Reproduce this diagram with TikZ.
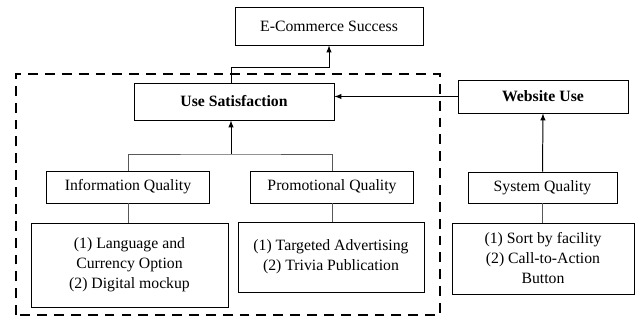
\documentclass[tikz,border=0pt]{standalone}
\usepackage{fontspec}
\setmainfont{Liberation Serif}
\usetikzlibrary{calc}

\begin{document}
\begin{tikzpicture}[
 >={latex},
 align=center,
 inner sep=1mm,
 font=\fontsize{11.2}{14.2}\selectfont,
 box/.style={draw=black,line width=0.6pt,rectangle,fill=white},
 link/.style={draw=black!65,line width=0.6pt},
 arrow/.style={draw=black,line width=0.7pt,->},
 group/.style={draw=black,line width=1.8pt,dash pattern=on 7pt off 5pt}
]
\useasboundingbox (0,0) rectangle (16.025,8.125);
% dashed frame round the satisfaction part
\draw [group] (0.4,0.25) rectangle (11.0,6.275);
\node (ecom-box) [box,minimum width=4.7cm,minimum height=0.95cm] at (8.225,7.475) {E-Commerce Success};
\node (usesat-box) [box,minimum width=5cm,minimum height=0.925cm] at (5.85,5.5875) {\bfseries Use Satisfaction};
\node (webuse-box) [box,minimum width=4.25cm,minimum height=0.825cm] at (13.575,5.7125) {\bfseries Website Use};
\node (infoq-box) [box,minimum width=4.075cm,minimum height=0.8cm] at (3.2,3.45) {Information Quality};
\node (promoq-box) [box,minimum width=4.075cm,minimum height=0.8cm] at (8.3,3.45) {Promotional Quality};
\node (sysq-box) [box,minimum width=3.725cm,minimum height=0.775cm] at (13.5625,3.4375) {System Quality};
\node (infoq-list) [box,minimum width=4.925cm,minimum height=2.1cm] at (3.2375,1.5) {(1) Language and\\Currency Option\\(2) Digital mockup};
\node (promoq-list) [box,minimum width=4.65cm,minimum height=1.75cm] at (8.275,1.7) {(1) Targeted Advertising\\(2) Trivia Publication};
\node (sysq-list) [box,minimum width=4.55cm,minimum height=1.775cm] at (13.575,1.6625) {(1) Sort by facility\\(2) Call-to-Action\\Button};
\coordinate (trunk) at (5.775,4.275);
\coordinate (elbow) at (5.775,6.425);
% quality boxes to their lists
\draw [link] (infoq-box.south) -- (infoq-box.south |- infoq-list.north);
\draw [link] (promoq-box.south) -- (promoq-box.south |- promoq-list.north);
\draw [link] (sysq-box.south) -- (sysq-box.south |- sysq-list.north);
% tree into use satisfaction
\draw [link] (infoq-box.north) |- (trunk) -| (promoq-box.north);
\draw [arrow] (trunk) -- (trunk |- usesat-box.south);
\draw [arrow] (sysq-box.north) -- (webuse-box.south);
\draw [arrow] (webuse-box.west) -- (webuse-box.west -| usesat-box.east);
\draw [arrow] (elbow |- usesat-box.north) -- (elbow) -| (ecom-box.south);
\end{tikzpicture}
\end{document}
